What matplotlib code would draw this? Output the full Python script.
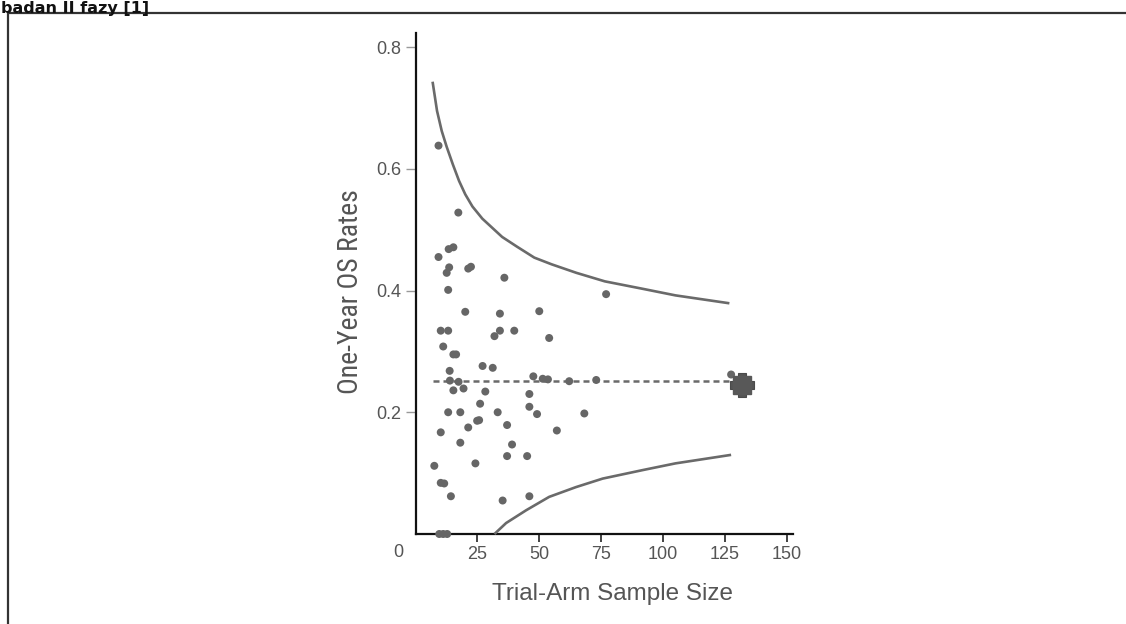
import matplotlib
matplotlib.use("Agg")
import matplotlib.pyplot as plt
from matplotlib.patches import Rectangle
from matplotlib import font_manager
from matplotlib.font_manager import FontProperties

# ---------------- data ----------------
trial_n = [9.3, 17.3, 13.4, 15.3, 9.3, 13.6, 12.6, 22.4, 21.3, 35.9, 13.2, 20.1, 34.1, 50.0,
           10.2, 13.2, 34.1, 31.9, 39.9, 54.0, 11.2, 15.3, 16.4, 27.1, 31.2, 13.8, 13.9, 17.4,
           47.6, 51.4, 53.5, 62.1, 73.0, 127.5, 15.3, 19.4, 28.2, 46.0, 26.1, 46.0, 49.1, 13.2,
           18.1, 33.2, 68.2, 24.9, 25.7, 37.0, 21.3, 10.2, 57.1, 18.1, 39.0, 37.0, 45.1, 24.2,
           7.6, 10.2, 11.6, 14.3, 35.2, 46.0, 77.0, 9.6, 11.2, 12.8]
os_rate = [0.638, 0.528, 0.468, 0.471, 0.455, 0.438, 0.429, 0.439, 0.436, 0.421, 0.401, 0.365,
           0.362, 0.366, 0.334, 0.334, 0.334, 0.325, 0.334, 0.322, 0.308, 0.295, 0.295, 0.276,
           0.273, 0.268, 0.252, 0.250, 0.259, 0.255, 0.254, 0.251, 0.253, 0.262, 0.236, 0.239,
           0.234, 0.230, 0.214, 0.209, 0.197, 0.200, 0.200, 0.200, 0.198, 0.186, 0.187, 0.179,
           0.175, 0.167, 0.170, 0.150, 0.147, 0.128, 0.128, 0.116, 0.112, 0.084, 0.083, 0.062,
           0.055, 0.062, 0.394, 0.0, 0.0, 0.0]

upper_n = [6.9, 8.7, 10.6, 12.6, 15.1, 17.6, 20.1, 23.0, 27.0, 31.0, 35.0, 41.0, 48.0, 55.0,
           65.0, 76.5, 91.5, 105.0, 126.8]
upper_rate = [0.743, 0.695, 0.662, 0.636, 0.607, 0.580, 0.558, 0.538, 0.518, 0.503, 0.488,
              0.472, 0.454, 0.443, 0.429, 0.415, 0.403, 0.392, 0.379]

lower_n = [31.9, 36.6, 44.7, 54.0, 64.8, 75.6, 91.8, 105.0, 127.5]
lower_rate = [0.0, 0.018, 0.039, 0.061, 0.077, 0.091, 0.105, 0.116, 0.130]

ref_n = [7.1, 127.5]
ref_rate = [0.252, 0.252]

pooled_n = [131.9]
pooled_rate = [0.245]

x_ticks = [25, 50, 75, 100, 125, 150]
y_ticks = [0.2, 0.4, 0.6, 0.8]
y_tick_labels = ["0.2", "0.4", "0.6", "0.8"]

title_text = "badan II fazy [1]"
x_label = "Trial-Arm Sample Size"
y_label = "One-Year OS Rates"

# ---------------- figure ----------------
W, H = 1126, 624
fig = plt.figure(figsize=(W / 100, H / 100), dpi=100)
fig.patch.set_facecolor("white")

sans = ["Liberation Sans", "DejaVu Sans"]


def find_condensed():
    prefs = ["Liberation Sans Narrow", "Roboto Condensed", "Open Sans Condensed",
             "Noto Sans Condensed", "DejaVu Sans Condensed"]
    entries = font_manager.fontManager.ttflist
    cands = []
    for f in entries:
        nm = f.name
        fn = f.fname.lower()
        is_cond = ("narrow" in nm.lower() or "condensed" in nm.lower()
                   or "condensed" in str(f.stretch) or "narrow" in fn or "condensed" in fn)
        if not is_cond:
            continue
        if f.style != "normal":
            continue
        w = f.weight if isinstance(f.weight, int) else 400
        if w != 400:
            continue
        if "semi" in fn or "extra" in fn:
            continue
        rank = len(prefs)
        for i, p in enumerate(prefs):
            if p.lower().replace(" ", "") in (nm + fn).lower().replace(" ", "").replace("-", ""):
                rank = i
                break
        cands.append((rank, f.fname))
    if not cands:
        return None
    cands.sort()
    return cands[0][1]


cond_file = find_condensed()

ax_left, ax_right = 415.5, 793.0
ax_bottom, ax_top = 534.0, 33.0
ax = fig.add_axes([ax_left / W, 1 - ax_bottom / H,
                   (ax_right - ax_left) / W, (ax_bottom - ax_top) / H])
ax.set_xlim(0, 152.5)
ax.set_ylim(0, 0.823)
ax.patch.set_alpha(0)

grey = "#6a6a6a"

# funnel limits
ax.plot(upper_n, upper_rate, color=grey, lw=1.9, solid_capstyle="butt", zorder=3)
ax.plot(lower_n, lower_rate, color=grey, lw=1.9, solid_capstyle="butt", zorder=3,
        clip_on=False)
# pooled reference line
ax.plot(ref_n, ref_rate, color=grey, lw=1.8, dashes=(2.4, 1.6), zorder=3)
# trial arms
ax.scatter(trial_n, os_rate, s=33, color="#666666", edgecolors="none", zorder=4,
           clip_on=False)
# pooled estimate marker
ax.plot(pooled_n, pooled_rate, marker="P", markersize=17, color="#555555",
        markeredgecolor="#4a4a4a", markeredgewidth=0.8, linestyle="none", zorder=5)
ax.plot(pooled_n, pooled_rate, marker="s", markersize=13, color="#585858",
        linestyle="none", zorder=5)

for s in ("top", "right"):
    ax.spines[s].set_visible(False)
for s in ("left", "bottom"):
    ax.spines[s].set_linewidth(1.6)
    ax.spines[s].set_color("#111111")

ax.set_xticks(x_ticks)
ax.set_yticks(y_ticks)
ax.set_yticklabels(y_tick_labels)
ax.tick_params(axis="y", direction="out", length=7, width=1.0, color="#999999",
               pad=3, labelsize=13, labelcolor="#555555")
ax.tick_params(axis="x", direction="out", length=6, width=1.2, color="#222222",
               pad=2.5, labelsize=13, labelcolor="#555555")
for lbl in ax.get_xticklabels() + ax.get_yticklabels():
    lbl.set_family(sans)

# origin label "0"
ax.annotate("0", xy=(0, 0), xytext=(-12.6, -13.2), textcoords="offset points",
            ha="center", va="center", fontsize=13, color="#555555", family=sans,
            annotation_clip=False)

fig.text(612 / W, 1 - 594 / H, x_label, ha="center", va="center",
         fontsize=17.5, color="#555555", family=sans)
if cond_file:
    yprop = FontProperties(fname=cond_file, size=20)
else:
    yprop = FontProperties(family=sans, size=16.5)
fig.text(351 / W, 1 - 292 / H, y_label, ha="center", va="center", rotation=90,
         color="#555555", fontproperties=yprop)

# outer frame and heading
fig.add_artist(Rectangle((8 / W, -0.1), 1.2, 1 - 13 / H + 0.1, transform=fig.transFigure,
                         fill=False, edgecolor="#333333", lw=1.6))
fig.text(1 / W, 1 - 12.5 / H, title_text, ha="left", va="baseline", fontsize=11.5,
         fontweight="bold", color="#111111", family=["DejaVu Sans"])

fig.savefig("out.png", dpi=100, facecolor="white")
